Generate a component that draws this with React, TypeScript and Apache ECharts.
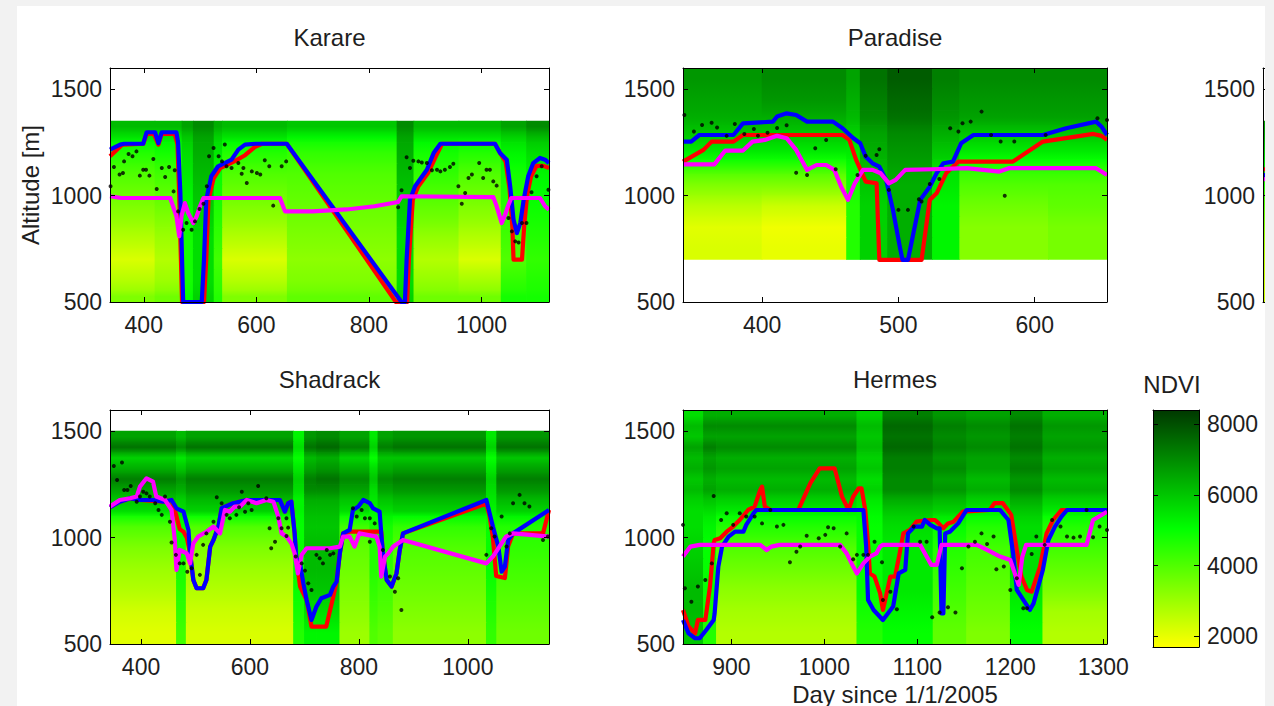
import React, { useEffect, useRef } from "react";
import * as echarts from "echarts";

// ---------------- Shared axes ----------------
const altitudeRange = [500, 1600];
const altitudeTicks = [500, 1000, 1500];
const ndviRange = [1700, 8400];
const ndviTicks = [2000, 4000, 6000, 8000];

// ---------------- Karare ----------------
const karareXRange = [340, 1120];
const karareXTicks = [400, 600, 800, 1000];
const karareXEdges = [340, 420, 468, 488, 525, 540, 655, 850, 880, 960, 1035, 1080, 1120];
const karareYEdges = [1350, 1300, 1250, 1150, 1050, 950, 850, 750, 650, 550, 500];
// NDVI / 100, rows from top to bottom
const karareNdvi = [
  [62, 62, 66, 70, 64, 62, 60, 70, 62, 62, 66, 70],
  [55, 55, 60, 66, 58, 55, 52, 66, 55, 55, 58, 62],
  [46, 48, 56, 64, 54, 46, 44, 64, 48, 46, 52, 56],
  [40, 42, 54, 62, 50, 40, 40, 62, 44, 40, 48, 52],
  [36, 38, 52, 60, 48, 36, 38, 60, 40, 36, 46, 50],
  [32, 34, 50, 58, 46, 32, 36, 58, 36, 32, 44, 48],
  [27, 30, 48, 56, 44, 27, 34, 56, 31, 27, 42, 46],
  [22, 27, 48, 56, 42, 22, 32, 56, 27, 22, 40, 44],
  [27, 30, 48, 56, 44, 27, 34, 56, 31, 29, 44, 46],
  [34, 36, 50, 58, 46, 34, 38, 58, 36, 36, 48, 48],
];
const karareRed = [
  [340, 1185], [350, 1210], [362, 1240], [399, 1244], [405, 1290], [418, 1290], [426, 1240], [432, 1290],
  [455, 1290], [460, 1240], [463, 1000], [466, 700], [468, 500], [507, 500], [511, 699], [515, 981],
  [524, 1080], [536, 1130], [560, 1160], [580, 1190], [598, 1230], [610, 1244], [654, 1244], [848, 500],
  [868, 500], [871, 699], [878, 981], [887, 1040], [906, 1110], [920, 1190], [930, 1244], [1024, 1244],
  [1033, 1200], [1043, 1160], [1050, 1030], [1055, 850], [1057, 699], [1072, 699], [1076, 860], [1081, 1000],
  [1088, 1090], [1098, 1140], [1110, 1140], [1120, 1130],
];
const karareBlue = [
  [340, 1216], [358, 1240], [365, 1244], [399, 1244], [405, 1298], [420, 1298], [426, 1247], [432, 1298],
  [458, 1298], [461, 1250], [465, 1012], [468, 699], [470, 500], [503, 500], [507, 699], [511, 981],
  [520, 1091], [532, 1138], [556, 1169], [568, 1216], [580, 1240], [598, 1244], [654, 1244], [858, 500],
  [864, 500], [867, 699], [873, 981], [882, 1044], [903, 1122], [915, 1200], [927, 1244], [1024, 1244],
  [1033, 1200], [1045, 1169], [1051, 1044], [1057, 887], [1063, 824], [1069, 871], [1075, 981], [1083, 1091],
  [1092, 1153], [1104, 1177], [1113, 1169], [1120, 1153],
];
const karareMagenta = [
  [340, 997], [360, 989], [447, 989], [452, 950], [458, 903], [463, 809], [467, 903], [473, 965],
  [479, 918], [488, 871], [494, 903], [500, 950], [506, 989], [642, 989], [651, 926], [700, 926],
  [760, 935], [810, 950], [852, 970], [858, 997], [1021, 993], [1027, 950], [1036, 871], [1042, 910],
  [1047, 950], [1053, 989], [1104, 989], [1113, 950], [1120, 934],
];
const karareDots = [
  [341, 1044], [347, 1135], [357, 1099], [363, 1106], [365, 1161], [373, 1196], [380, 1185], [387, 1208],
  [393, 1094], [399, 1122], [404, 1122], [410, 1094], [417, 1172], [423, 1031], [432, 1130], [438, 1088],
  [445, 1135], [453, 1020], [455, 1119], [461, 926], [470, 840], [476, 871], [485, 840], [491, 879],
  [499, 937], [506, 962], [512, 1044], [516, 1185], [524, 1224], [533, 1185], [539, 1161], [544, 1240],
  [547, 1138], [556, 1130], [568, 1153], [574, 1103], [577, 1130], [583, 1059], [592, 1114], [601, 1106],
  [607, 1099], [615, 1166], [623, 1138], [630, 953], [645, 1138], [653, 1161], [852, 945], [858, 1025],
  [867, 1180], [873, 1130], [879, 1164], [888, 1161], [894, 1156], [903, 1153], [912, 1119], [921, 1122],
  [927, 1114], [935, 1122], [944, 1135], [950, 1150], [959, 1044], [965, 962], [971, 1012], [977, 1083],
  [983, 1099], [996, 1153], [1003, 1083], [1009, 1122], [1015, 1122], [1021, 1067], [1027, 1047], [1048, 895],
  [1054, 832], [1060, 785], [1066, 780], [1072, 871], [1080, 871], [1089, 1016], [1098, 1091], [1107, 1138],
  [1119, 1028],
];

// ---------------- Paradise ----------------
const paradiseXRange = [342, 653];
const paradiseXTicks = [400, 500, 600];
const paradiseXEdges = [342, 400, 462, 472, 492, 525, 545, 610, 653];
const paradiseYEdges = [1600, 1500, 1400, 1330, 1250, 1170, 1100, 1000, 900, 800, 700];
const paradiseNdvi = [
  [68, 70, 66, 74, 78, 72, 70, 70],
  [66, 68, 64, 72, 76, 70, 68, 68],
  [64, 64, 62, 70, 74, 68, 66, 66],
  [60, 60, 58, 66, 70, 64, 60, 60],
  [54, 54, 54, 64, 68, 60, 54, 54],
  [44, 44, 50, 62, 66, 56, 46, 46],
  [34, 34, 48, 60, 64, 54, 40, 40],
  [26, 24, 46, 58, 64, 52, 36, 38],
  [21, 19, 46, 58, 64, 52, 33, 35],
  [22, 20, 46, 58, 64, 52, 33, 35],
];
const paradiseRed = [
  [342, 1160], [357, 1215], [363, 1254], [379, 1254], [386, 1285], [459, 1285], [464, 1262], [469, 1168],
  [476, 1066], [484, 1058], [486, 698], [517, 698], [523, 980], [528, 1011], [535, 1105], [544, 1160],
  [584, 1160], [606, 1254], [643, 1290], [649, 1281], [653, 1262],
];
const paradiseBlue = [
  [342, 1254], [348, 1254], [354, 1285], [379, 1285], [386, 1340], [408, 1348], [411, 1372], [418, 1387],
  [425, 1379], [433, 1348], [452, 1348], [459, 1317], [467, 1270], [472, 1246], [476, 1183], [481, 1152],
  [486, 1136], [491, 1074], [496, 933], [501, 760], [503, 698], [507, 698], [511, 823], [516, 980],
  [523, 1042], [528, 1105], [533, 1152], [540, 1160], [546, 1246], [555, 1285], [606, 1285], [623, 1317],
  [645, 1348], [649, 1324], [653, 1285],
];
const paradiseMagenta = [
  [342, 1147], [365, 1147], [373, 1212], [386, 1212], [393, 1254], [402, 1262], [411, 1281], [418, 1270],
  [425, 1215], [433, 1121], [440, 1144], [447, 1144], [453, 1121], [458, 1042], [463, 980], [468, 1058],
  [474, 1121], [481, 1121], [487, 1105], [493, 1058], [498, 1074], [505, 1121], [525, 1124], [550, 1129],
  [574, 1113], [581, 1129], [645, 1129], [653, 1097],
];
const paradiseDots = [
  [343, 1379], [350, 1301], [356, 1332], [363, 1343], [367, 1320], [374, 1281], [380, 1337], [387, 1290],
  [394, 1313], [397, 1282], [404, 1296], [411, 1318], [418, 1331], [425, 1108], [433, 1097], [439, 1223],
  [447, 1262], [454, 1124], [470, 1097], [476, 1187], [484, 1191], [486, 1218], [493, 1027], [500, 933],
  [507, 933], [515, 983], [517, 972], [523, 1055], [530, 1078], [538, 1317], [544, 1301], [547, 1340],
  [553, 1348], [561, 1395], [568, 1285], [575, 1254], [578, 999], [585, 1254], [608, 1285], [646, 1364],
  [653, 1356],
];

// ---------------- Third (cut-off) panel ----------------
const thirdXRange = [340, 1120];
const thirdXTicks = [400, 600, 800, 1000];
const thirdXEdges = [340, 420];
const thirdYEdges = [1350, 1250, 1150, 1050, 950, 850, 750, 650, 500];
const thirdNdvi = [[66], [58], [50], [42], [36], [30], [26], [24]];
const thirdRed = [[340, 1124], [400, 1124]];
const thirdBlue = [[340, 1096], [400, 1096]];
const thirdMagenta = [[340, 1077], [400, 1077]];
const thirdDots: number[][] = [];

// ---------------- Shadrack ----------------
const shadrackXRange = [343, 1149];
const shadrackXTicks = [400, 600, 800, 1000];
const shadrackXEdges = [343, 465, 483, 680, 700, 722, 765, 820, 835, 863, 1034, 1053, 1149];
const shadrackYEdges = [1500, 1450, 1400, 1350, 1300, 1250, 1200, 1150, 1100, 1000, 900, 800, 700, 600, 500];
const shadrackNdvi = [
  [66, 62, 66, 52, 68, 70, 66, 54, 66, 68, 54, 68],
  [74, 70, 74, 56, 74, 76, 72, 58, 72, 74, 58, 74],
  [58, 54, 58, 50, 62, 64, 58, 50, 60, 60, 50, 60],
  [64, 60, 64, 54, 66, 68, 64, 56, 64, 66, 54, 66],
  [72, 68, 72, 58, 72, 74, 70, 60, 70, 72, 58, 72],
  [66, 64, 68, 56, 70, 70, 66, 56, 66, 68, 56, 68],
  [60, 58, 62, 52, 64, 64, 60, 54, 60, 62, 54, 62],
  [56, 56, 58, 52, 62, 62, 56, 52, 56, 58, 52, 58],
  [40, 50, 40, 50, 60, 60, 42, 48, 48, 44, 50, 46],
  [34, 48, 34, 50, 62, 62, 38, 46, 46, 40, 50, 44],
  [30, 48, 30, 50, 62, 62, 36, 46, 44, 38, 50, 42],
  [27, 46, 27, 50, 60, 60, 34, 44, 42, 36, 48, 40],
  [23, 44, 24, 48, 56, 56, 32, 42, 40, 34, 46, 38],
  [21, 42, 22, 46, 52, 52, 30, 40, 38, 32, 44, 36],
];
const shadrackRed = [
  [343, 1143], [361, 1169], [380, 1185], [398, 1177], [441, 1169], [456, 1177], [463, 1120], [471, 1040],
  [478, 1028], [484, 1000], [490, 926], [496, 801], [502, 762], [514, 762], [520, 801], [527, 958],
  [533, 989], [542, 1052], [548, 1138], [569, 1162], [594, 1177], [655, 1177], [664, 1122], [670, 1162],
  [676, 1169], [682, 1020], [685, 903], [692, 770], [704, 707], [713, 582], [740, 582], [753, 723],
  [759, 793], [765, 926], [771, 1020], [783, 1028], [841, 1028], [844, 926], [851, 801], [860, 770],
  [869, 832], [875, 942], [881, 1020], [1034, 1160], [1040, 1100], [1046, 1000], [1052, 820], [1068, 810],
  [1074, 960], [1083, 1020], [1138, 1020], [1149, 1130],
];
const shadrackBlue = [
  [343, 1143], [361, 1169], [380, 1185], [398, 1177], [422, 1177], [441, 1169], [456, 1177], [465, 1138],
  [478, 1122], [487, 1036], [490, 926], [496, 801], [502, 762], [514, 762], [520, 801], [527, 958],
  [533, 989], [542, 1052], [548, 1138], [569, 1162], [594, 1177], [655, 1177], [664, 1122], [670, 1162],
  [676, 1169], [682, 1020], [685, 903], [692, 879], [698, 785], [704, 707], [713, 613], [722, 676],
  [731, 715], [747, 731], [753, 770], [759, 793], [765, 926], [771, 1020], [783, 1036], [789, 1130],
  [799, 1146], [808, 1177], [820, 1162], [826, 1138], [838, 1122], [841, 1020], [844, 926], [851, 801],
  [860, 770], [869, 832], [875, 942], [881, 1020], [1034, 1177], [1040, 1115], [1046, 1052], [1056, 958],
  [1062, 840], [1068, 864], [1074, 989], [1083, 1020], [1149, 1130],
];
const shadrackMagenta = [
  [343, 1146], [361, 1177], [380, 1185], [392, 1193], [398, 1240], [410, 1279], [422, 1263], [428, 1193],
  [444, 1177], [456, 1130], [462, 989], [465, 848], [471, 942], [484, 926], [490, 879], [496, 973],
  [505, 1005], [520, 1028], [533, 1052], [545, 1020], [554, 1130], [563, 1122], [572, 1146], [582, 1146],
  [594, 1177], [612, 1162], [630, 1177], [643, 1169], [652, 1099], [658, 1020], [667, 1005], [676, 973],
  [682, 926], [688, 832], [695, 919], [704, 950], [747, 950], [765, 958], [771, 1005], [783, 1005],
  [792, 958], [801, 1020], [832, 1005], [838, 958], [841, 817], [848, 911], [854, 926], [863, 958],
  [881, 989], [1034, 879], [1046, 911], [1058, 958], [1070, 1005], [1083, 1020], [1149, 1005],
];
const shadrackDots = [
  [350, 1337], [356, 1271], [365, 1353], [369, 1224], [375, 1224], [381, 1243], [392, 1169], [398, 1193],
  [404, 1216], [410, 1208], [416, 1193], [426, 1162], [432, 1130], [438, 1107], [444, 1193], [453, 1075],
  [456, 977], [464, 919], [471, 879], [478, 879], [485, 840], [493, 856], [502, 919], [508, 825],
  [514, 966], [520, 1020], [533, 1075], [539, 1190], [548, 1162], [557, 1107], [563, 1091], [575, 1107],
  [580, 1143], [585, 1216], [591, 1122], [597, 1162], [603, 1130], [615, 1243], [630, 1185], [636, 1044],
  [639, 950], [646, 981], [652, 1091], [658, 1044], [667, 1008], [667, 1091], [670, 1047], [684, 911],
  [695, 879], [701, 845], [707, 785], [713, 754], [722, 919], [728, 903], [734, 879], [741, 942],
  [747, 919], [753, 926], [789, 1138], [796, 1099], [805, 1130], [811, 1091], [820, 1091], [829, 1067],
  [820, 981], [844, 942], [857, 817], [866, 746], [872, 809], [878, 660], [1034, 919], [1043, 1044],
  [1049, 1005], [1062, 1099], [1071, 958], [1077, 1020], [1083, 1162], [1095, 1201], [1104, 1162], [1113, 1146],
  [1138, 989], [1147, 1005],
];

// ---------------- Hermes ----------------
const hermesXRange = [848, 1304];
const hermesXTicks = [900, 1000, 1100, 1200, 1300];
const hermesXEdges = [848, 870, 884, 1035, 1063, 1117, 1153, 1200, 1235, 1304];
const hermesYEdges = [1600, 1550, 1500, 1450, 1400, 1350, 1300, 1250, 1200, 1150, 1100, 1000, 900, 800, 700, 600, 500];
const hermesNdvi = [
  [56, 64, 64, 58, 72, 68, 66, 70, 64],
  [62, 70, 70, 62, 76, 72, 70, 74, 68],
  [60, 66, 66, 60, 74, 70, 68, 72, 66],
  [66, 72, 70, 62, 76, 72, 70, 74, 68],
  [62, 66, 64, 58, 72, 68, 66, 70, 64],
  [64, 68, 66, 60, 72, 70, 66, 72, 66],
  [60, 64, 62, 56, 70, 66, 62, 68, 62],
  [62, 66, 64, 58, 70, 68, 64, 70, 64],
  [58, 60, 58, 54, 64, 62, 58, 64, 58],
  [56, 56, 54, 52, 60, 58, 54, 60, 54],
  [56, 52, 46, 50, 56, 50, 46, 56, 46],
  [58, 50, 40, 50, 54, 46, 42, 56, 42],
  [60, 50, 36, 50, 54, 44, 40, 56, 38],
  [62, 50, 32, 50, 54, 42, 38, 54, 34],
  [62, 48, 29, 48, 52, 40, 36, 52, 29],
  [60, 46, 27, 46, 50, 38, 34, 50, 27],
];
const hermesRed = [
  [848, 660], [854, 582], [861, 550], [864, 613], [872, 613], [877, 770], [881, 973], [882, 989],
  [888, 997], [895, 1028], [902, 1052], [909, 1083], [918, 1130], [925, 1146], [931, 1224], [933, 1240],
  [936, 1146], [942, 1130], [972, 1130], [985, 1256], [995, 1326], [1011, 1326], [1019, 1193], [1026, 1130],
  [1031, 1193], [1037, 1232], [1040, 1232], [1044, 1130], [1047, 973], [1049, 832], [1054, 817], [1060, 738],
  [1063, 660], [1067, 738], [1071, 817], [1076, 817], [1081, 926], [1085, 1020], [1092, 1036], [1099, 1075],
  [1114, 1083], [1119, 1083], [1123, 1067], [1128, 1044], [1133, 1067], [1139, 1075], [1149, 1122], [1178, 1130],
  [1183, 1162], [1192, 1162], [1201, 1107], [1207, 942], [1212, 817], [1218, 754], [1223, 746], [1232, 864],
  [1239, 1020], [1246, 1083], [1255, 1130], [1304, 1130],
];
const hermesBlue = [
  [848, 613], [854, 550], [861, 527], [866, 527], [873, 566], [881, 613], [882, 644], [886, 864],
  [890, 958], [897, 1005], [904, 1028], [913, 1028], [916, 1060], [924, 1115], [927, 1130], [1042, 1130],
  [1045, 958], [1047, 707], [1053, 660], [1063, 613], [1074, 676], [1080, 832], [1087, 848], [1090, 1020],
  [1097, 1052], [1105, 1052], [1108, 1083], [1114, 1060], [1121, 1044], [1124, 1044], [1126, 644], [1128, 644],
  [1130, 1020], [1135, 1028], [1144, 1067], [1153, 1130], [1189, 1130], [1198, 1083], [1203, 926], [1207, 754],
  [1221, 660], [1225, 691], [1235, 848], [1241, 989], [1248, 1052], [1255, 1099], [1261, 1130], [1304, 1130],
];
const hermesMagenta = [
  [848, 911], [856, 958], [866, 966], [931, 966], [938, 942], [943, 958], [952, 966], [1017, 966],
  [1024, 926], [1031, 864], [1035, 832], [1042, 879], [1049, 911], [1056, 926], [1060, 958], [1063, 966],
  [1103, 966], [1110, 911], [1115, 872], [1121, 872], [1126, 966], [1164, 966], [1175, 942], [1189, 911],
  [1200, 895], [1206, 817], [1209, 778], [1213, 911], [1217, 966], [1282, 966], [1289, 1083], [1304, 1122],
];
const hermesDots = [
  [848, 1060], [850, 762], [857, 699], [864, 770], [872, 801], [879, 879], [881, 1196], [889, 1083],
  [895, 1115], [902, 1060], [909, 1115], [916, 1099], [925, 1099], [933, 1067], [942, 1130], [949, 1052],
  [956, 1060], [963, 884], [970, 934], [974, 958], [981, 1009], [994, 997], [1001, 1013], [1004, 1049],
  [1010, 1044], [1017, 958], [1024, 1020], [1031, 898], [1035, 919], [1042, 919], [1047, 919], [1054, 981],
  [1062, 884], [1063, 707], [1071, 746], [1078, 663], [1096, 1052], [1103, 981], [1110, 981], [1116, 626],
  [1124, 648], [1133, 673], [1141, 648], [1148, 856], [1155, 958], [1162, 981], [1169, 1020], [1175, 970],
  [1182, 1005], [1185, 851], [1193, 864], [1200, 754], [1207, 809], [1214, 668], [1218, 668], [1223, 923],
  [1228, 1005], [1237, 966], [1245, 1083], [1254, 1052], [1261, 1005], [1268, 1000], [1275, 1005], [1282, 1130],
  [1289, 1002], [1296, 1052], [1304, 1036],
];

// ---------------- Layout / styles ----------------
const FONT = '"Liberation Sans", Arial, Helvetica, sans-serif';
const TEXT = "#1e1e1e";
const COLORS = { red: "#ff0000", blue: "#0000ff", magenta: "#ff00ff" };

function ndviColor(v: number): string {
  const t = Math.max(0, Math.min(1, (v - ndviRange[0]) / (ndviRange[1] - ndviRange[0])));
  let r: number, g: number;
  if (t < 0.5) {
    const u = t / 0.5;
    r = 255 * (1 - u);
    g = 255;
  } else {
    const u = (t - 0.5) / 0.5;
    r = 0;
    g = 255 + (56 - 255) * u;
  }
  return `rgb(${Math.round(r)},${Math.round(g)},0)`;
}

// cell: [x0, x1, yBottom, yTop, value, valueAbove, valueBelow]
function heatCells(xEdges: number[], yEdges: number[], ndvi: number[][]) {
  const out: number[][] = [];
  for (let r = 0; r < ndvi.length; r++) {
    for (let c = 0; c < ndvi[r].length; c++) {
      const v = ndvi[r][c];
      const above = r > 0 ? ndvi[r - 1][c] : v;
      const below = r < ndvi.length - 1 ? ndvi[r + 1][c] : v;
      out.push([xEdges[c], xEdges[c + 1], yEdges[r + 1], yEdges[r], v * 100, above * 100, below * 100]);
    }
  }
  return out;
}

type Panel = {
  title: string | null;
  grid: { left: number; top: number; width: number; height: number };
  xRange: number[];
  xTicks: number[];
  showXLabels: boolean;
  heat: number[][];
  red: number[][];
  blue: number[][];
  magenta: number[][];
  dots: number[][];
};

const panels: Panel[] = [
  {
    title: "Karare", grid: { left: 93, top: 62, width: 439, height: 234 },
    xRange: karareXRange, xTicks: karareXTicks, showXLabels: true,
    heat: heatCells(karareXEdges, karareYEdges, karareNdvi),
    red: karareRed, blue: karareBlue, magenta: karareMagenta, dots: karareDots,
  },
  {
    title: "Paradise", grid: { left: 666, top: 62, width: 424, height: 234 },
    xRange: paradiseXRange, xTicks: paradiseXTicks, showXLabels: true,
    heat: heatCells(paradiseXEdges, paradiseYEdges, paradiseNdvi),
    red: paradiseRed, blue: paradiseBlue, magenta: paradiseMagenta, dots: paradiseDots,
  },
  {
    title: null, grid: { left: 1246, top: 62, width: 440, height: 234 },
    xRange: thirdXRange, xTicks: thirdXTicks, showXLabels: false,
    heat: heatCells(thirdXEdges, thirdYEdges, thirdNdvi),
    red: thirdRed, blue: thirdBlue, magenta: thirdMagenta, dots: thirdDots,
  },
  {
    title: "Shadrack", grid: { left: 93, top: 404, width: 439, height: 234 },
    xRange: shadrackXRange, xTicks: shadrackXTicks, showXLabels: true,
    heat: heatCells(shadrackXEdges, shadrackYEdges, shadrackNdvi),
    red: shadrackRed, blue: shadrackBlue, magenta: shadrackMagenta, dots: shadrackDots,
  },
  {
    title: "Hermes", grid: { left: 666, top: 404, width: 424, height: 234 },
    xRange: hermesXRange, xTicks: hermesXTicks, showXLabels: true,
    heat: heatCells(hermesXEdges, hermesYEdges, hermesNdvi),
    red: hermesRed, blue: hermesBlue, magenta: hermesMagenta, dots: hermesDots,
  },
];

const colorbarGrid = { left: 1136, top: 404, width: 46, height: 237 };

function axisBase(gridIndex: number, min: number, max: number, ticks: number[], showLabel: boolean, margin: number, position: string) {
  return {
    gridIndex, type: "value", min, max, position, z: 10,
    axisLine: { show: true, onZero: false, lineStyle: { color: "#000", width: 1 } },
    axisTick: { show: true, inside: true, length: 5, lineStyle: { color: "#000", width: 1 }, customValues: ticks },
    axisLabel: {
      show: showLabel, customValues: ticks, fontSize: 23, fontFamily: FONT, color: TEXT, margin,
      formatter: (v: number) => String(v),
    },
    splitLine: { show: false },
  };
}

function buildOption() {
  const grids: any[] = [];
  const xAxes: any[] = [];
  const yAxes: any[] = [];
  const series: any[] = [];
  const graphics: any[] = [];

  panels.forEach((p, i) => {
    grids.push({ ...p.grid, containLabel: false });
    xAxes.push(axisBase(i, p.xRange[0], p.xRange[1], p.xTicks, p.showXLabels, 11, "bottom"));
    xAxes.push(axisBase(i, p.xRange[0], p.xRange[1], p.xTicks, false, 11, "top"));
    yAxes.push(axisBase(i, altitudeRange[0], altitudeRange[1], altitudeTicks, true, 8, "left"));
    yAxes.push(axisBase(i, altitudeRange[0], altitudeRange[1], altitudeTicks, false, 8, "right"));
    const xi = i * 2;
    series.push({
      type: "custom", xAxisIndex: xi, yAxisIndex: xi, data: p.heat, clip: true, z: 1, silent: true,
      encode: { x: [0, 1], y: [2, 3] },
      renderItem: (_params: any, api: any) => {
        const a = api.coord([api.value(0), api.value(3)]);
        const b = api.coord([api.value(1), api.value(2)]);
        const v = api.value(4);
        const mid = ndviColor(v);
        const top = ndviColor((v + api.value(5)) / 2);
        const bot = ndviColor((v + api.value(6)) / 2);
        return {
          type: "rect",
          shape: { x: a[0] - 0.4, y: a[1] - 0.4, width: b[0] - a[0] + 0.8, height: b[1] - a[1] + 0.8 },
          style: {
            fill: new echarts.graphic.LinearGradient(0, 0, 0, 1, [
              { offset: 0, color: top },
              { offset: 0.5, color: mid },
              { offset: 1, color: bot },
            ]),
          },
        };
      },
    });
    const line = (data: number[][], color: string) => ({
      type: "line", xAxisIndex: xi, yAxisIndex: xi, data, showSymbol: false, symbol: "none",
      lineStyle: { color, width: 4.2, join: "round" }, itemStyle: { color }, z: 3, silent: true, clip: true,
    });
    series.push(line(p.red, COLORS.red));
    series.push(line(p.blue, COLORS.blue));
    series.push(line(p.magenta, COLORS.magenta));
    series.push({
      type: "scatter", xAxisIndex: xi, yAxisIndex: xi, data: p.dots, symbolSize: 4,
      itemStyle: { color: "#000" }, z: 4, silent: true, clip: true,
    });
    if (p.title) {
      graphics.push({
        type: "text", x: p.grid.left + p.grid.width / 2, y: p.grid.top - 31,
        style: { text: p.title, font: `24px ${FONT}`, fill: TEXT, align: "center", verticalAlign: "middle" },
      });
    }
  });

  // colorbar
  const ci = panels.length;
  grids.push({ ...colorbarGrid });
  const cbX = (pos: string) => ({
    gridIndex: ci, type: "value", min: 0, max: 1, position: pos, z: 10,
    axisLine: { show: true, onZero: false, lineStyle: { color: "#000", width: 1 } },
    axisTick: { show: false }, axisLabel: { show: false }, splitLine: { show: false },
  });
  xAxes.push(cbX("bottom"));
  xAxes.push(cbX("top"));
  yAxes.push(axisBase(ci, ndviRange[0], ndviRange[1], ndviTicks, false, 8, "left"));
  yAxes.push(axisBase(ci, ndviRange[0], ndviRange[1], ndviTicks, true, 8, "right"));
  series.push({
    type: "custom", xAxisIndex: ci * 2, yAxisIndex: ci * 2 + 1, data: [[0, 1, ndviRange[0], ndviRange[1]]],
    z: 1, silent: true, encode: { x: [0, 1], y: [2, 3] },
    renderItem: (_params: any, api: any) => {
      const a = api.coord([api.value(0), api.value(3)]);
      const b = api.coord([api.value(1), api.value(2)]);
      return {
        type: "rect",
        shape: { x: a[0], y: a[1], width: b[0] - a[0], height: b[1] - a[1] },
        style: {
          fill: new echarts.graphic.LinearGradient(0, 1, 0, 0, [
            { offset: 0, color: "#ffff00" },
            { offset: 0.5, color: "#00ff00" },
            { offset: 1, color: "#003800" },
          ]),
        },
      };
    },
  });

  graphics.push({
    type: "text", x: colorbarGrid.left + 19, y: colorbarGrid.top - 26,
    style: { text: "NDVI", font: `24px ${FONT}`, fill: TEXT, align: "center", verticalAlign: "middle" },
  });
  graphics.push({
    type: "text", x: 13, y: 179, rotation: Math.PI / 2,
    style: { text: "Altitude [m]", font: `24px ${FONT}`, fill: TEXT, align: "center", verticalAlign: "middle" },
  });
  graphics.push({
    type: "text", x: 878, y: 688,
    style: { text: "Day since 1/1/2005", font: `24px ${FONT}`, fill: TEXT, align: "center", verticalAlign: "middle" },
  });

  return {
    animation: false,
    backgroundColor: "#ffffff",
    grid: grids,
    xAxis: xAxes,
    yAxis: yAxes,
    series,
    graphic: graphics,
  };
}

export default function App() {
  const ref = useRef<HTMLDivElement>(null);
  useEffect(() => {
    document.body.style.margin = "0";
    const chart = echarts.init(ref.current!, undefined, { renderer: "svg" });
    chart.setOption(buildOption() as any);
    return () => chart.dispose();
  }, []);
  return (
    <div style={{ width: 1274, height: 706, background: "#f2f2f2", position: "relative", overflow: "hidden" }}>
      <div ref={ref} style={{ position: "absolute", left: 17, top: 6, width: 1248, height: 700, background: "#ffffff" }} />
    </div>
  );
}
